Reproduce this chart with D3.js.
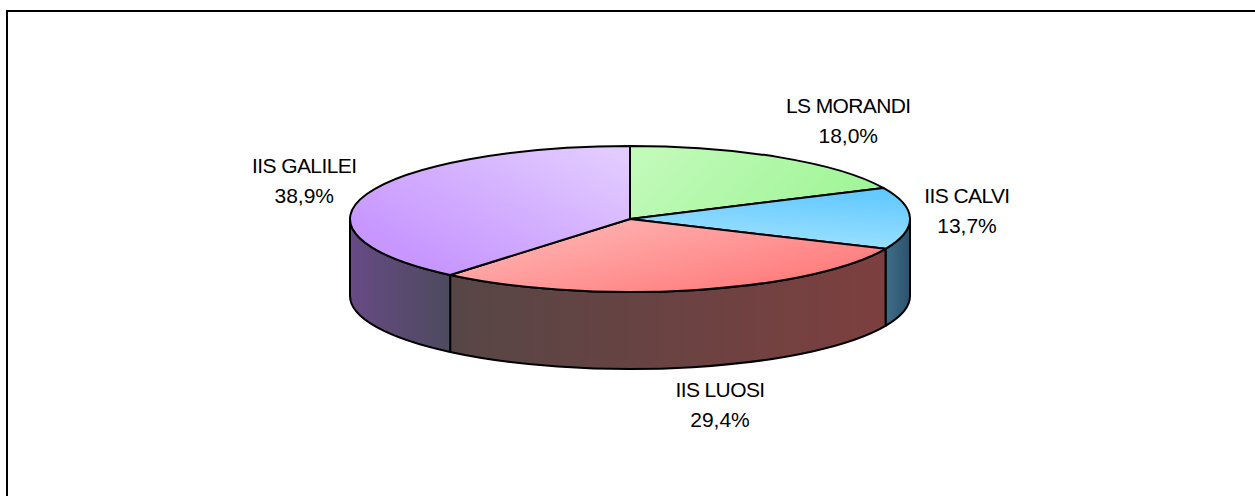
<!DOCTYPE html>
<html>
<head>
<meta charset="utf-8">
<script src="https://cdn.jsdelivr.net/npm/d3@7"></script>
<style>
  html, body { margin: 0; padding: 0; background: #fff; overflow: hidden; }
  text { font-family: "Liberation Sans", Arial, sans-serif; }
</style>
</head>
<body>
<svg width="1255" height="496"></svg>
<script>
// schools and their share (%)
const schools = ["LS MORANDI", "IIS CALVI", "IIS LUOSI", "IIS GALILEI"];
const shares  = [18.0, 13.7, 29.4, 38.9];
const shareLabels = ["18,0%", "13,7%", "29,4%", "38,9%"];

// top face gradient (light -> saturated) and side gradient (left -> right)
const topLight = ["#c2faba", "#a3e3ff", "#ffb8b8", "#e2ccff"];
const topDeep  = ["#9ef596", "#62c9ff", "#ff7f7f", "#c797ff"];
const sideLeft  = ["#3e6e3e", "#3f6d88", "#574646", "#674a85"];
const sideRight = ["#3a5f3a", "#2c536c", "#7d3f3f", "#4d4a5e"];
// gradient direction for the top faces, in bbox units [x1,y1,x2,y2]
const topDir = [[0, 0.3, 1, 0.6], [0.3, 1, 0.6, 0], [0, 0.2, 0.8, 0.8], [1, 0.1, 0.2, 0.8]];

const svg = d3.select("svg");
const defs = svg.append("defs");

// frame (runs past right/bottom edge like the source)
svg.append("rect")
  .attr("x", 7).attr("y", 11)
  .attr("width", 1400).attr("height", 700)
  .attr("fill", "none").attr("stroke", "#000").attr("stroke-width", 2);

const cx = 630, cy = 219, rx = 280, ry = 73, depth = 77;

const pie = d3.pie().sort(null).value(d => d.value);
const data = schools.map((s, i) => ({ name: s, value: shares[i], label: shareLabels[i], i }));
const arcs = pie(data);

const pt = (a, dy = 0) => [cx + rx * Math.sin(a), cy - ry * Math.cos(a) + dy];

arcs.forEach((d, i) => {
  const g1 = defs.append("linearGradient").attr("id", "top" + i)
    .attr("x1", topDir[i][0]).attr("y1", topDir[i][1])
    .attr("x2", topDir[i][2]).attr("y2", topDir[i][3]);
  g1.append("stop").attr("offset", 0).attr("stop-color", topLight[i]);
  g1.append("stop").attr("offset", 1).attr("stop-color", topDeep[i]);

  const g2 = defs.append("linearGradient").attr("id", "side" + i)
    .attr("x1", 0).attr("y1", 0).attr("x2", 1).attr("y2", 0);
  g2.append("stop").attr("offset", 0).attr("stop-color", sideLeft[i]);
  g2.append("stop").attr("offset", 1).attr("stop-color", sideRight[i]);
});

// side walls: only the front half (PI/2 .. 3PI/2) is visible
const sides = svg.append("g");
arcs.forEach((d, i) => {
  const a0 = Math.max(d.startAngle, Math.PI / 2);
  const a1 = Math.min(d.endAngle, 3 * Math.PI / 2);
  if (a1 <= a0) return;
  const p0 = pt(a0), p1 = pt(a1), q1 = pt(a1, depth), q0 = pt(a0, depth);
  const large = (a1 - a0) > Math.PI ? 1 : 0;
  const path = `M${p0}A${rx},${ry} 0 ${large} 1 ${p1}L${q1}A${rx},${ry} 0 ${large} 0 ${q0}Z`;
  sides.append("path")
    .attr("d", path)
    .attr("fill", `url(#side${i})`)
    .attr("stroke", "#000").attr("stroke-width", 2)
    .attr("stroke-linejoin", "round");
});

// top faces
const tops = svg.append("g");
arcs.forEach((d, i) => {
  const p0 = pt(d.startAngle), p1 = pt(d.endAngle);
  const large = (d.endAngle - d.startAngle) > Math.PI ? 1 : 0;
  tops.append("path")
    .attr("d", `M${cx},${cy}L${p0}A${rx},${ry} 0 ${large} 1 ${p1}Z`)
    .attr("fill", `url(#top${i})`)
    .attr("stroke", "#000").attr("stroke-width", 2)
    .attr("stroke-linejoin", "round");
});

// labels placed outside along the bisector
const labelRx = 370, labelRy = 116;
const labelNudge = {"LS MORANDI": [20, -1], "IIS CALVI": [-33, -7], "IIS LUOSI": [7, -3], "IIS GALILEI": [22, 1]};
const labels = svg.append("g").attr("text-anchor", "middle").attr("font-size", 21).attr("fill", "#000");
arcs.forEach(d => {
  const a = (d.startAngle + d.endAngle) / 2;
  const c = Math.cos(a);
  const n = labelNudge[d.data.name] || [0, 0];
  const x = cx + labelRx * Math.sin(a) + n[0];
  const y = cy - labelRy * c + (c < 0 ? -c * depth : 0) + n[1];
  labels.append("text").attr("x", x).attr("y", y - 7.5)
    .attr("letter-spacing", -0.6).text(d.data.name);
  labels.append("text").attr("x", x).attr("y", y + 22.5).text(d.data.label);
});
</script>
</body>
</html>
